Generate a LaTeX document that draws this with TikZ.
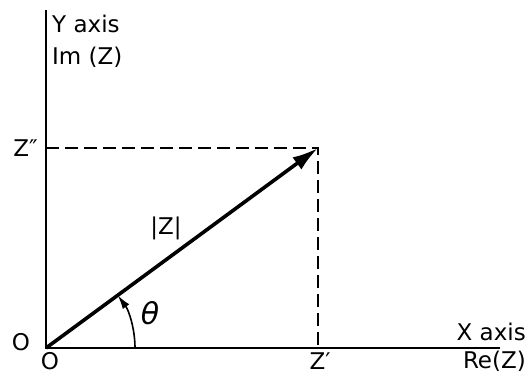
\documentclass[tikz,border=0pt]{standalone}
\usepackage{fontspec}
\setmainfont{DejaVu Sans}
\usetikzlibrary{arrows.meta}
\begin{document}
\begin{tikzpicture}[x=1pt,y=-1pt,
  lbl/.style={inner sep=0pt,font=\fontsize{23}{26}\selectfont},
  axis/.style={line width=2.6pt},
  guide/.style={line width=1.8pt,dash pattern=on 13pt off 6pt},
  vec/.style={line width=3.6pt,-{Latex[length=26pt,width=15pt]}},
  ang/.style={line width=1.6pt,-{Latex[length=14pt,width=8pt]}}]
\useasboundingbox (0,0) rectangle (529,375);
\coordinate (O) at (46,348);
\coordinate (ytop) at (46,10);
\coordinate (xend) at (500,348);
\coordinate (P) at (318,148);
\coordinate (Py) at (46,148);
\coordinate (Px) at (318,348);
\draw[axis] (ytop) -- (O) -- (xend);
\draw[guide] (Py) -- (P) -- (Px);
\draw[vec] (O) -- (P);
\draw[ang] (O) ++(89,0) arc[start angle=0,end angle=-36.3,radius=89];
\node[lbl,anchor=west] (yl) at (52,24) {Y axis};
\node[lbl,anchor=west] (iml) at (52,57) {Im (Z)};
\node[lbl,anchor=east] (zpp) at (38,148) {Z″};
\node[lbl] (absz) at (166,228) {|Z|};
\node[inner sep=0pt,font=\fontsize{30}{32}\selectfont\itshape] (th) at (150,313) {θ};
\node[lbl] (o1) at (21,342) {O};
\node[lbl] (o2) at (50,361) {O};
\node[lbl] (zp) at (320,361) {Z′};
\node[lbl,anchor=east] (xl) at (526,332) {X axis};
\node[lbl,anchor=east] (rel) at (526,361) {Re(Z)};
\end{tikzpicture}
\end{document}
